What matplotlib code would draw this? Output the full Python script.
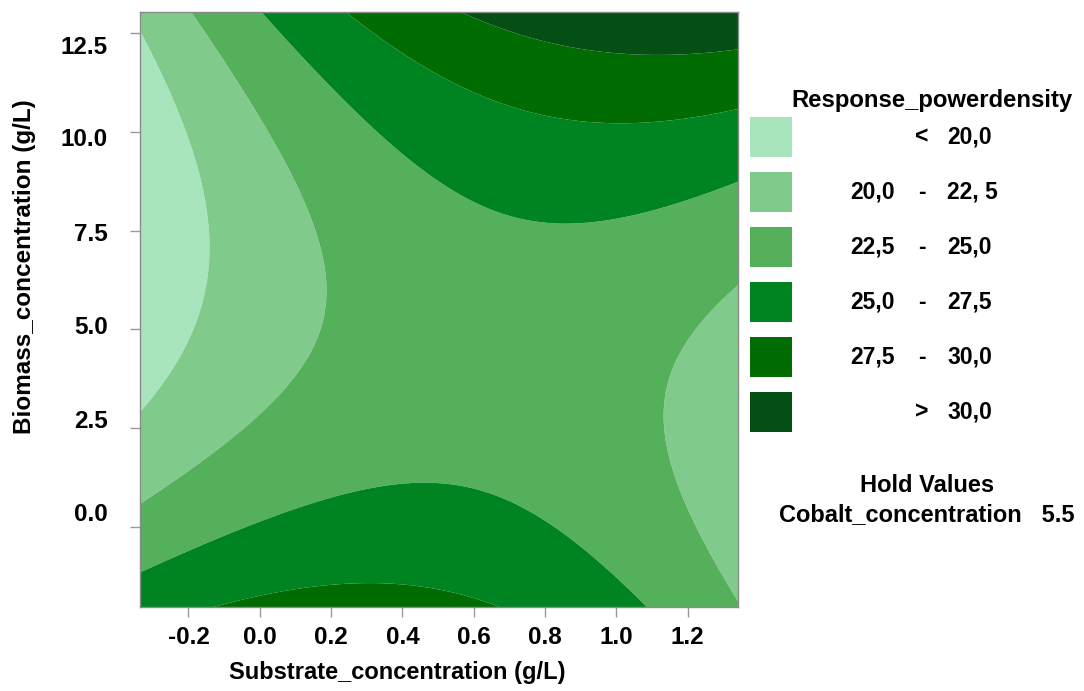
import numpy as np
import matplotlib.pyplot as plt
from matplotlib.patches import Rectangle
from matplotlib.transforms import ScaledTranslation

# quadratic response model for power density
# terms in coded units (-1..1 across each plotted axis range)
substrate_range = [-0.336, 1.341]
biomass_range = [-2.04, 13.04]
model_terms = ['const', 'S', 'B', 'S^2', 'B^2', 'S*B']
model_coefs = [23.72, 1.87, 0.785, -3.5, 5.1, 3.8]

levels = [0, 20.0, 22.5, 25.0, 27.5, 30.0, 100]
level_colors = ['#a8e5bd', '#80cb8b', '#55b05b', '#008321', '#006c02', '#054f14']
legend_rows = [('', '<', '20,0'), ('20,0', '-', '22, 5'), ('22,5', '-', '25,0'),
               ('25,0', '-', '27,5'), ('27,5', '-', '30,0'), ('', '>', '30,0')]

x_ticks = [-0.2, 0.0, 0.2, 0.4, 0.6, 0.8, 1.0, 1.2]
y_ticks = [0.0, 2.5, 5.0, 7.5, 10.0, 12.5]
hold_name = 'Cobalt_concentration'
hold_value = 5.5

plt.rcParams['font.family'] = ['Liberation Sans', 'DejaVu Sans']
plt.rcParams['font.weight'] = 'bold'

fig = plt.figure(figsize=(10.84, 6.91), dpi=100)
W, H = 1084, 691
ax = fig.add_axes([140 / W, 1 - 607 / H, 598 / W, 595 / H])

xs = np.linspace(substrate_range[0], substrate_range[1], 400)
ys = np.linspace(biomass_range[0], biomass_range[1], 400)
X, Y = np.meshgrid(xs, ys)
u = (X - np.mean(substrate_range)) / (np.diff(substrate_range)[0] / 2)
v = (Y - np.mean(biomass_range)) / (np.diff(biomass_range)[0] / 2)
c0, cs, cb, css, cbb, csb = model_coefs
Z = c0 + cs * u + cb * v + css * u ** 2 + cbb * v ** 2 + csb * u * v

ax.contourf(X, Y, Z, levels=levels, colors=level_colors, antialiased=True)
ax.set_xlim(substrate_range)
ax.set_ylim(biomass_range)

ax.set_xticks(x_ticks)
ax.set_xticklabels([f'{t:.1f}' for t in x_ticks])
ax.set_yticks(y_ticks)
ax.set_yticklabels([f'{t:.1f}' for t in y_ticks])
ax.tick_params(axis='both', length=7, width=1, color='#999999', labelsize=17.5)
ax.tick_params(axis='x', pad=7)
ax.tick_params(axis='y', pad=16)
# the y labels in the original sit slightly squeezed toward the middle
shift_px = [-15, -9, -4, 1, 5, 12]
for lab, dy in zip(ax.get_yticklabels(), shift_px):
    lab.set_transform(lab.get_transform() + ScaledTranslation(0, -dy / 100, fig.dpi_scale_trans))
for sp in ax.spines.values():
    sp.set_color('#8a8a8a')
    sp.set_linewidth(1)

fig.text(397 / W, 1 - 673 / H, 'Substrate_concentration (g/L)', ha='center', va='center',
         fontsize=17, fontweight='bold')
fig.text(25 / W, 1 - 267 / H, 'Biomass_concentration (g/L)', ha='center', va='center',
         rotation=90, fontsize=17.5, fontweight='bold')

# legend drawn in a pixel-space overlay
lg = fig.add_axes([0, 0, 1, 1])
lg.set_xlim(0, W)
lg.set_ylim(H, 0)
lg.axis('off')
lg.text(932, 100, 'Response_powerdensity', ha='center', va='center', fontsize=17.2, fontweight='bold')
for i, (col, (lo, sep, hi)) in enumerate(zip(level_colors, legend_rows)):
    yc = 137 + i * 55
    lg.add_patch(Rectangle((750, yc - 20), 42, 40, color=col, lw=0))
    lg.text(895, yc, lo, ha='right', va='center', fontsize=16.5, fontweight='bold')
    lg.text(922, yc, sep, ha='center', va='center', fontsize=16.5, fontweight='bold')
    lg.text(947, yc, hi, ha='left', va='center', fontsize=16.5, fontweight='bold')
lg.text(927, 485, 'Hold Values', ha='center', va='center', fontsize=17, fontweight='bold')
lg.text(927, 515, f'{hold_name}   {hold_value}', ha='center', va='center', fontsize=17, fontweight='bold')

fig.savefig('out.png', dpi=100)
